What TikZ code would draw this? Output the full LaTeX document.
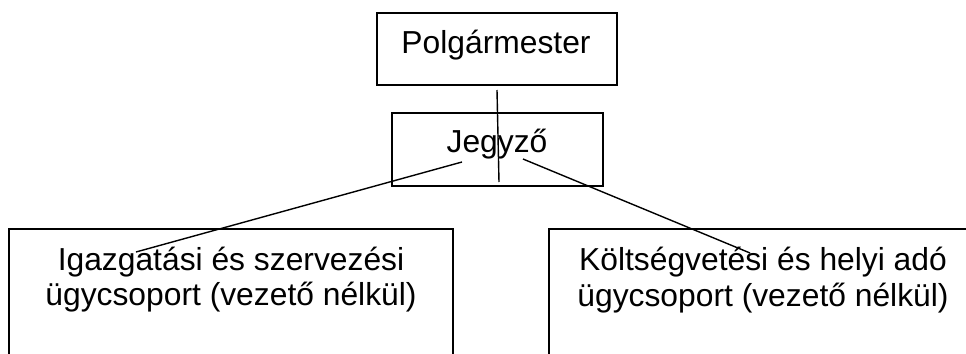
\documentclass[tikz,border=0pt]{standalone}
\usepackage{fontspec}
\setmainfont{Liberation Sans}
\begin{document}
\begin{tikzpicture}[x=0.5pt,y=-0.5pt,
  box/.style={draw=black, line width=0.75pt, rectangle, inner sep=0pt, fill=none},
  label/.style={anchor=base, inner sep=0pt, font=\fontsize{15.9pt}{19pt}\selectfont},
  link/.style={draw=black, line width=0.7pt}]
  \useasboundingbox (0,0) rectangle (966,354);
  \clip (0,0) rectangle (966,354);

  % organisation boxes
  \node[box, minimum width=120pt, minimum height=36pt] (polg) at (497,49) {};
  \node[box, minimum width=105.5pt, minimum height=36.5pt] (jegy) at (497.5,149.5) {};
  \node[box, minimum width=222pt, minimum height=75pt] (igaz) at (231,304) {};
  \node[box, minimum width=213.5pt, minimum height=75pt] (kolt) at (762.5,304) {};

  % box texts
  \node[label] (tpolg) at (496,53) {Polgármester};
  \node[label] (tjegy) at (497,152) {Jegyző};
  \node[label] (tigaz1) at (231,270) {Igazgatási és szervezési};
  \node[label] (tigaz2) at (231,305) {ügycsoport (vezető nélkül)};
  \node[label] (tkolt1) at (763,270) {Költségvetési és helyi adó};
  \node[label] (tkolt2) at (763,306) {ügycsoport (vezető nélkül)};

  % connector end points
  \coordinate (pBot) at (497,90);
  \coordinate (jDown) at (499,182);
  \coordinate (jLeft) at (462,162);
  \coordinate (iEnd) at (136,252);
  \coordinate (jRight) at (523,159);
  \coordinate (kEnd) at (750,253);

  % connectors
  \draw[link] (pBot) -- (jDown);
  \draw[link] (jLeft) -- (iEnd);
  \draw[link] (jRight) -- (kEnd);
\end{tikzpicture}
\end{document}
